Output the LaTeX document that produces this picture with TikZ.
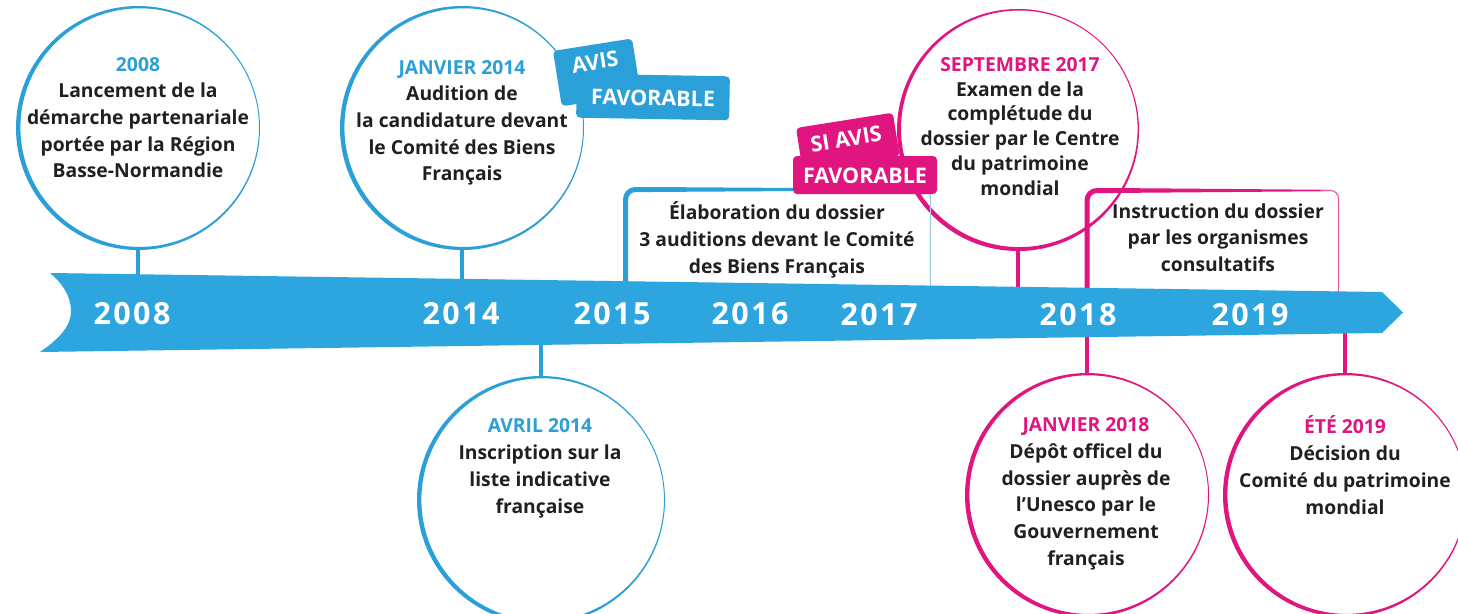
\documentclass[tikz,border=0pt]{standalone}
\usepackage{fontspec}
\setmainfont{Open Sans}
\usetikzlibrary{calc}

\definecolor{ribbon}{HTML}{2DA6DF}
\definecolor{bleu}{HTML}{2A9FD8}
\definecolor{rose}{HTML}{E0157F}
\definecolor{ink}{HTML}{231F20}
\definecolor{paleblue}{HTML}{9CCBE6}

\newcommand\bodytext{\bfseries\fontsize{19.3}{26.7}\selectfont}
% ring with a stroke that thins towards one side: #1 node, #2 radius, #3 colour, #4 offset of the inner edge
\newcommand\ringat[4]{%
  \fill[#3, even odd rule] (#1.center) circle[radius=#2]
    ($(#1.center)+(#4)$) circle[radius=#2-2.7pt];}

\begin{document}
\begin{tikzpicture}[x=1pt, y=-1pt,
  ring/.style={circle, inner sep=0pt, fill=white},
  txt/.style={align=center, text=ink, font=\bodytext, inner sep=0pt,
    execute at begin node=\strut, execute at end node=\strut},
  year/.style={text=white, inner sep=0pt,
    font=\bfseries\fontsize{30.5}{30.5}\selectfont\addfontfeatures{LetterSpace=8}},
  tagtext/.style={text=white, font=\bfseries\fontsize{21.5}{21.5}\selectfont, inner sep=0pt},
  tagbg/.style={fill=#1, rounded corners=4pt},
  stemb/.style={draw=bleu, line width=4pt},
  stemr/.style={draw=rose, line width=4pt}]
\useasboundingbox (0,0) rectangle (1458,613);

% ---------- circles ----------
\node[ring, minimum size=244pt] (c08) at (138,128) {};
\node[ring, minimum size=244pt] (c14) at (462,128) {};
\node[ring, minimum size=242pt] (c17) at (1018,130) {};
\node[ring, minimum size=248pt] (cA) at (541,500) {};
\node[ring, minimum size=244pt] (cJ) at (1087,495) {};
\node[ring, minimum size=244pt] (cE) at (1345,495) {};

\ringat{c08}{122pt}{bleu}{1.7,-0.4}
\ringat{c14}{122pt}{bleu}{1.7,-0.4}
\ringat{c17}{121pt}{rose}{1.3,-1.2}
\ringat{cA}{124pt}{bleu}{1.7,-0.4}
\ringat{cJ}{122pt}{rose}{1.7,-0.4}
\ringat{cE}{122pt}{rose}{1.7,-0.4}

% ---------- points on the ribbon ----------
\coordinate (k08) at (138,276);
\coordinate (k14) at (462,280);
\coordinate (kB) at (625.5,283);
\coordinate (kBr) at (930.5,287);
\coordinate (k17) at (1018,289);
\coordinate (kI) at (1087,291);
\coordinate (kIr) at (1338.5,292);
\coordinate (kA) at (541,344);
\coordinate (kJ) at (1087,334);
\coordinate (kE) at (1345,332);

% ---------- period boxes ----------
% Élaboration du dossier
\draw[bleu, line width=5pt, rounded corners=10pt] (kB) |- (652,189.5);
\fill[bleu] (648,187) -- (922,188.8) -- (922,190.2) -- (648,192) -- cycle;
\draw[paleblue, line width=1.2pt, rounded corners=8pt] (915,189.5) -| (kBr);
% Instruction du dossier
\draw[rose, line width=5pt, rounded corners=10pt] (kI) |- (1114,190.5);
\fill[rose] (1110,188) -- (1328,189.8) -- (1328,191.2) -- (1110,193) -- cycle;
\draw[rose!70, line width=1.2pt, rounded corners=8pt] (1320,190.5) -| (kIr);

% ---------- tags ----------
\fill[tagbg=bleu, rotate around={9:(553,51)}] (553,51) rectangle ++(80,56);
\fill[tagbg=bleu, rotate around={-1:(653,97)}] (576.5,75) rectangle (729.5,119);
\fill[tagbg=rose, rotate around={9:(796,128)}] (796,128) rectangle ++(98,44);
\fill[tagbg=rose] (793,156) rectangle (937,194);
\node[tagtext, rotate=9] (avis) at (595,62) {AVIS};
\node[tagtext, rotate=-1] (fav1) at (653,98) {FAVORABLE};
\node[tagtext, rotate=9] (siavis) at (846,139) {SI AVIS};
\node[tagtext] (fav2) at (865,176) {FAVORABLE};

% ---------- stems ----------
\draw[stemb] (c08.south) -- (k08);
\draw[stemb] (c14.south) -- (k14);
\draw[stemr] (c17.south) -- (k17);
\draw[stemb] (kA) -- (cA.north);
\draw[stemr] (kJ) -- (cJ.north);
\draw[stemr] (kE) -- (cE.north);

% ---------- ribbon ----------
\fill[ribbon] (50,273) -- (1382,292) -- (1403,312.5) -- (1382,333) -- (40,352)
  .. controls (60,338) and (71,326) .. (71,311)
  .. controls (71,296) and (62,283) .. (50,273) -- cycle;

\node[year] (y08) at (132,314) {2008};
\node[year] (y14) at (461,314) {2014};
\node[year] (y15) at (612,314) {2015};
\node[year] (y16) at (750,314) {2016};
\node[year] (y17) at (879,315) {2017};
\node[year] (y18) at (1078,315) {2018};
\node[year] (y19) at (1250,315) {2019};

% ---------- texts ----------
\node[txt] (t08) at (138,121.5) {\textcolor{bleu}{2008}\\Lancement de la\\démarche partenariale\\portée par la Région\\Basse-Normandie};
\node[txt] (t14) at (462,124.5) {\textcolor{bleu}{JANVIER 2014}\\Audition de\\la candidature devant\\le Comité des Biens\\Français};
\node[txt, font=\bfseries\fontsize{19.3}{24.8}\selectfont] (t17) at (1020,130) {\textcolor{rose}{SEPTEMBRE 2017}\\Examen de la\\complétude du\\dossier par le Centre\\du patrimoine\\mondial};
\node[txt] (tB) at (777,241.5) {Élaboration du dossier\\3 auditions devant le Comité\\des Biens Français};
\node[txt] (tI) at (1218,241.5) {Instruction du dossier\\par les organismes\\consultatifs};
\node[txt] (tA) at (540,470) {\textcolor{bleu}{AVRIL 2014}\\Inscription sur la\\liste indicative\\française};
\node[txt] (tJ) at (1086,495.5) {\textcolor{rose}{JANVIER 2018}\\Dépôt officel du\\dossier auprès de\\l’Unesco par le\\Gouvernement\\français};
\node[txt] (tE) at (1345,469) {\textcolor{rose}{ÉTÉ 2019}\\Décision du\\Comité du patrimoine\\mondial};
\end{tikzpicture}
\end{document}
